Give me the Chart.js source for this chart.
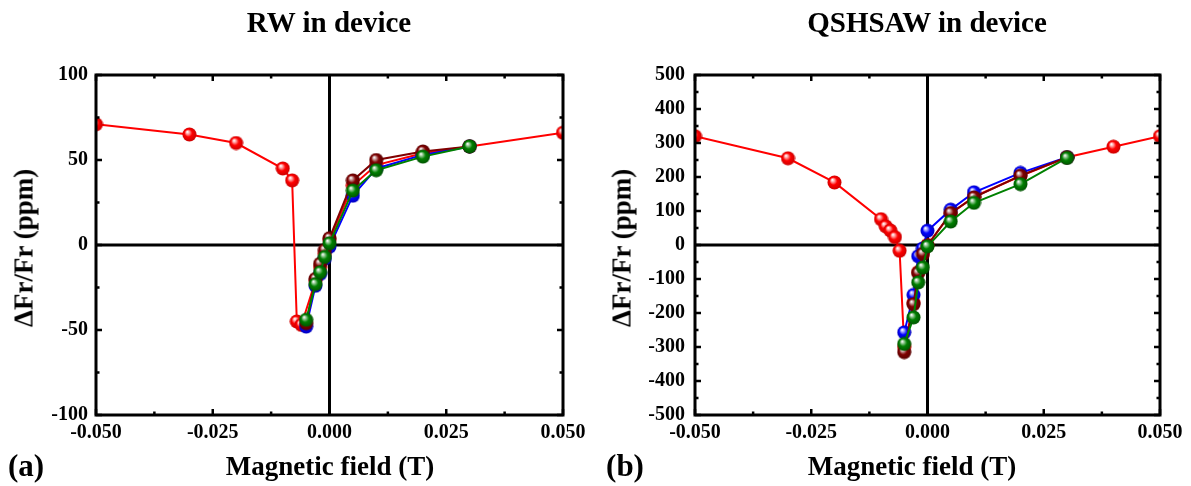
<!DOCTYPE html>
<html>
<head>
<meta charset="utf-8">
<script src="https://cdn.jsdelivr.net/npm/chart.js@4/dist/chart.umd.min.js"></script>
<style>
  html, body { margin: 0; padding: 0; background: #fff; }
  #wrap { position: relative; width: 1191px; height: 486px; overflow: hidden; font-family: 'Liberation Serif', 'Times New Roman', serif; font-weight: bold; color: #000; }
  canvas { position: absolute; top: 0; }
  .txt { position: absolute; white-space: nowrap; transform: translate(-50%, -50%); line-height: 1; }
  .vert { transform: translate(-50%, -50%) rotate(-90deg); }
</style>
</head>
<body>
<div id="wrap">
  <canvas id="chartRW" width="595" height="486" style="left:0"></canvas>
  <canvas id="chartQS" width="596" height="486" style="left:595px"></canvas>

  <div class="txt" style="left:329px; top:22px; font-size:29px">RW in device</div>
  <div class="txt" style="left:927px; top:22px; font-size:29px">QSHSAW in device</div>
  <div class="txt vert" style="left:24px; top:248px; font-size:27px">ΔFr/Fr (ppm)</div>
  <div class="txt vert" style="left:622px; top:248px; font-size:27px">ΔFr/Fr (ppm)</div>
  <div class="txt" style="left:330px; top:466px; font-size:27px">Magnetic field (T)</div>
  <div class="txt" style="left:912px; top:466px; font-size:27px">Magnetic field (T)</div>
  <div class="txt" style="left:26px; top:465px; font-size:31px">(a)</div>
  <div class="txt" style="left:625px; top:465px; font-size:31px">(b)</div>
</div>

<script>
// ---- datos (a) RW ----
const rwRedX = [-0.05, -0.03, -0.02, -0.01, -0.008, -0.007, -0.006, -0.003, -0.002, -0.001, 0, 0.005, 0.01, 0.02, 0.03, 0.05];
const rwRedY = [71, 65, 60, 45, 38, -45, -47, -21, -13, -5, 3, 35, 47, 54, 58, 66];
const rwX = [-0.005, -0.003, -0.002, -0.001, 0, 0.005, 0.01, 0.02, 0.03];
const rwDarkRedY = [-46, -20, -11, -3, 4, 38, 50, 55, 58];
const rwBlueY = [-48, -24, -17, -8, -1, 29, 45, 53, 58];
const rwGreenY = [-44, -23, -16, -7, 1, 32, 44, 52, 58];

// ---- datos (b) QSHSAW ----
const qsRedX = [-0.05, -0.03, -0.02, -0.01, -0.009, -0.008, -0.007, -0.006, -0.005, -0.003, -0.002, -0.001, 0, 0.005, 0.01, 0.02, 0.03, 0.04, 0.05];
const qsRedY = [320, 255, 184, 76, 55, 43, 23, -17, -300, -170, -80, -25, 0, 92, 142, 203, 258, 289, 320];
const qsX = [-0.005, -0.003, -0.002, -0.001, 0, 0.005, 0.01, 0.02, 0.03];
const qsDarkRedY = [-315, -174, -82, -26, -2, 94, 140, 204, 258];
const qsBlueY = [-257, -147, -33, -10, 42, 104, 155, 212, 258];
const qsGreenY = [-291, -213, -110, -66, -4, 69, 124, 179, 256];

// ---- ticks ----
const xTicks = [-0.05, -0.025, 0, 0.025, 0.05];
const xMinor = [-0.0375, -0.0125, 0.0125, 0.0375];
const rwYTicks = [-100, -50, 0, 50, 100];
const rwYMinor = [-75, -25, 25, 75];
const qsYTicks = [-500, -400, -300, -200, -100, 0, 100, 200, 300, 400, 500];
const qsYMinor = [-450, -350, -250, -150, -50, 50, 150, 250, 350, 450];

// esfera con brillo para los marcadores
function makeSphere(base, tint, shade) {
  const c = document.createElement('canvas');
  c.width = 15; c.height = 15;
  const g = c.getContext('2d');
  const grad = g.createRadialGradient(5.3, 4.8, 0.3, 7.5, 7.5, 7.3);
  grad.addColorStop(0, '#ffffff');
  grad.addColorStop(0.22, tint);
  grad.addColorStop(0.5, base);
  grad.addColorStop(1, shade);
  g.fillStyle = grad;
  g.beginPath();
  g.arc(7.5, 7.5, 7, 0, Math.PI * 2);
  g.fill();
  return c;
}

const spheres = {
  red: makeSphere('#ff0000', '#ff9c9c', '#c80000'),
  darkred: makeSphere('#800000', '#c49393', '#560000'),
  blue: makeSphere('#0000ff', '#9c9cff', '#0000b8'),
  green: makeSphere('#008000', '#8cc48c', '#005000')
};

function pts(xs, ys) {
  return xs.map((x, i) => ({ x: x, y: ys[i] }));
}

function series(xs, ys, color, sphere) {
  return {
    data: pts(xs, ys),
    borderColor: color,
    borderWidth: 2,
    pointStyle: sphere,
    pointRadius: 7,
    tension: 0
  };
}

// marco, líneas de cero y ticks hacia dentro
const framePlugin = {
  id: 'frame',
  beforeDatasetsDraw(chart) {
    const { ctx, chartArea: a, scales: { x, y } } = chart;
    const x0 = x.getPixelForValue(0);
    const y0 = y.getPixelForValue(0);
    ctx.save();
    ctx.strokeStyle = '#000';
    ctx.lineWidth = 3;
    ctx.beginPath();
    ctx.moveTo(x0, a.top); ctx.lineTo(x0, a.bottom);
    ctx.moveTo(a.left, y0); ctx.lineTo(a.right, y0);
    ctx.stroke();
    ctx.restore();
  },
  afterDraw(chart, args, opts) {
    const { ctx, chartArea: a, scales: { x, y } } = chart;
    ctx.save();
    ctx.strokeStyle = '#000';
    ctx.lineWidth = 2.5;
    ctx.beginPath();
    const tick = (vals, len) => {
      vals.x.forEach(v => {
        const px = x.getPixelForValue(v);
        ctx.moveTo(px, a.bottom); ctx.lineTo(px, a.bottom - len);
        ctx.moveTo(px, a.top); ctx.lineTo(px, a.top + len);
      });
      vals.y.forEach(v => {
        const py = y.getPixelForValue(v);
        ctx.moveTo(a.left, py); ctx.lineTo(a.left + len, py);
        ctx.moveTo(a.right, py); ctx.lineTo(a.right - len, py);
      });
    };
    tick({ x: opts.xMajor, y: opts.yMajor }, 6);
    tick({ x: opts.xMinor, y: opts.yMinor }, 3.5);
    ctx.stroke();
    ctx.lineWidth = 3;
    ctx.strokeRect(a.left, a.top, a.right - a.left, a.bottom - a.top);
    ctx.restore();
  }
};

function makeOptions(yMin, yMax, yTicks, yMinor, yWidth, rightPad, yPad) {
  return {
    responsive: false,
    animation: false,
    layout: { padding: { top: 75, right: rightPad, left: 0, bottom: 0 } },
    plugins: {
      legend: { display: false },
      tooltip: { enabled: false },
      frame: { xMajor: xTicks, xMinor: xMinor, yMajor: yTicks, yMinor: yMinor }
    },
    scales: {
      x: {
        type: 'linear',
        min: -0.05,
        max: 0.05,
        afterBuildTicks: s => { s.ticks = xTicks.map(v => ({ value: v })); },
        afterFit: s => { s.height = 71; },
        grid: { display: false, drawTicks: false },
        border: { display: false },
        ticks: {
          padding: 6,
          color: '#000',
          font: { family: 'Liberation Serif', weight: 'bold', size: 20 },
          callback: v => v.toFixed(3)
        }
      },
      y: {
        min: yMin,
        max: yMax,
        afterBuildTicks: s => { s.ticks = yTicks.map(v => ({ value: v })); },
        afterFit: s => { s.width = yWidth; },
        grid: { display: false, drawTicks: false },
        border: { display: false },
        ticks: {
          padding: yPad,
          color: '#000',
          font: { family: 'Liberation Serif', weight: 'bold', size: 20 },
          callback: v => String(v)
        }
      }
    }
  };
}

// (a) RW: el primer dataset queda encima
new Chart(document.getElementById('chartRW').getContext('2d'), {
  type: 'line',
  data: {
    datasets: [
      series(rwX, rwGreenY, '#008000', spheres.green),
      series(rwX, rwDarkRedY, '#800000', spheres.darkred),
      series(rwX, rwBlueY, '#0000ff', spheres.blue),
      series(rwRedX, rwRedY, '#ff0000', spheres.red)
    ]
  },
  options: makeOptions(-100, 100, rwYTicks, rwYMinor, 96, 32, 8),
  plugins: [framePlugin]
});

// (b) QSHSAW
new Chart(document.getElementById('chartQS').getContext('2d'), {
  type: 'line',
  data: {
    datasets: [
      series(qsX, qsGreenY, '#008000', spheres.green),
      series(qsX, qsDarkRedY, '#800000', spheres.darkred),
      series(qsX, qsBlueY, '#0000ff', spheres.blue),
      series(qsRedX, qsRedY, '#ff0000', spheres.red)
    ]
  },
  options: makeOptions(-500, 500, qsYTicks, qsYMinor, 100, 31, 10),
  plugins: [framePlugin]
});
</script>
</body>
</html>
